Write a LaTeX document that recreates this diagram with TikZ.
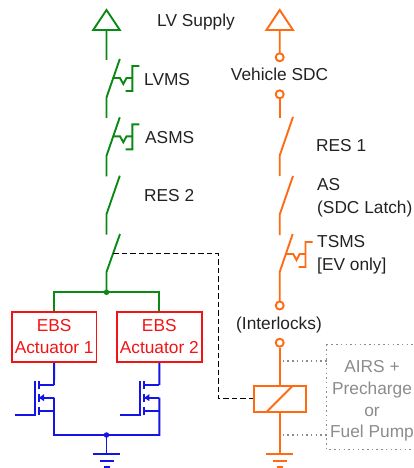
\documentclass[tikz,border=0pt]{standalone}
\usepackage{fontspec}
\setmainfont{Liberation Sans}
\definecolor{grn}{HTML}{0A8A14}
\definecolor{org}{HTML}{FF6A13}
\definecolor{blu}{HTML}{1414E6}
\definecolor{rd}{HTML}{F01414}
\definecolor{gry}{HTML}{8C8C8C}
\definecolor{txt}{HTML}{222222}
\tikzset{
  wire/.style={line width=1.9pt,line join=miter},
  lbl/.style={font=\fontsize{17.3}{17.3}\selectfont,text=txt,inner sep=0pt,anchor=base west},
  lblc/.style={lbl,anchor=base},
  ebs/.style={draw=rd,line width=1.9pt,minimum width=84.5pt,minimum height=50pt,inner sep=0pt,align=center,text=rd,font=\fontsize{17.3}{22}\selectfont},
  term/.style={circle,draw=org,fill=white,line width=1.9pt,minimum size=8pt,inner sep=0pt},
  junction/.style={circle,inner sep=0pt,minimum size=5.5pt},
  gl/.style={text=gry,font=\fontsize{17.3}{17.3}\selectfont,inner sep=0pt,anchor=base},
  tie/.style={gry,line width=1.5pt,dash pattern=on 1.5pt off 3.2pt},
  ctrl/.style={black,line width=1.2pt,dash pattern=on 5.5pt off 3pt}
}
\newcommand{\supply}[3]{% x, colour, bottom y
  \draw[wire,#2] (#1,30)--(#1-13.3,30)--(#1,10)--(#1+13.3,30)--cycle (#1,30)--(#1,#3);
}
\newcommand{\sw}[3]{% x, top y, colour: blade and stub
  \draw[wire,#3] (#1+13.3,#2)--(#1,#2+38.5)--(#1,#2+59);
}
\newcommand{\actu}[3]{% x, top y, colour
  \draw[wire,#3] (#1+6,#2+19)--(#1+13.5,#2+19)--(#1+16.8,#2+25)--(#1+20,#2+19)--(#1+25.8,#2+19)
     (#1+32.8,#2+7)--(#1+25.8,#2+7)--(#1+25.8,#2+32)--(#1+19,#2+32);
}
\newcommand{\fet}[1]{%
  \draw[wire,blu] (#1-19,381)--(#1-19,415)--(#1-39,415)
     (#1-15,381)--(#1-15,389) (#1-15,394)--(#1-15,402) (#1-15,407)--(#1-15,415)
     (#1-15,385)--(#1,385)
     (#1-15,411)--(#1,411)
     (#1-15,397.7)--(#1,397.7);
  \fill[blu] (#1-15,397.7)--(#1-10,394.2)--(#1-10,401.2)--cycle;
}
\newcommand{\gnd}[2]{% x, colour
  \draw[wire,#2] (#1,435)--(#1,454) (#1-13.3,454)--(#1+13.3,454) (#1-7,460.7)--(#1+7,460.7) (#1-3,467)--(#1+3,467);
}
\begin{document}
\begin{tikzpicture}[x=1pt,y=-1pt]
\useasboundingbox (0,0) rectangle (414,468);
% green LV chain
\supply{106.5}{grn}{60}
\sw{106.5}{59}{grn}\actu{106.5}{59}{grn}
\sw{106.5}{117.3}{grn}\actu{106.5}{117.3}{grn}
\sw{106.5}{175.7}{grn}
\draw[wire,grn] (120,234)--(106.5,272)--(106.5,292.3);
\node[ebs] (a1) at (54.2,337) {EBS\\Actuator 1};
\node[ebs] (a2) at (159.3,337) {EBS\\Actuator 2};
\node[junction,fill=grn] (j1) at (106.5,292.3) {};
\draw[wire,grn] (a1.north)--(a1.north|-j1)--(a2.north|-j1)--(a2.north);
% blue
\fet{54}\fet{159.3}
\coordinate (g1) at (54,435);
\coordinate (g2) at (159.3,435);
\node[junction,fill=blu] (j2) at (106.5,435) {};
\draw[wire,blu] (a1.south)--(54,385) (54,397.7)--(g1)--(g2)--(159.3,397.7) (a2.south)--(159.3,385);
\gnd{106.5}{blu}
% orange chain
\supply{279.7}{org}{53}
\node[term] (t1) at (279.7,57.3) {};
\node[term] (t2) at (279.7,94.3) {};
\draw[wire,org] (t2.south)--(279.7,118);
\sw{279.7}{117}{org}
\sw{279.7}{176}{org}
\draw[wire,org] (292.7,234)--(279.7,272)--(279.7,301);
\actu{279.7}{235}{org}
\node[term] (t3) at (279.7,305.5) {};
\node[term] (t4) at (279.7,342.7) {};
\node[draw=org,line width=1.9pt,minimum width=52pt,minimum height=26pt,inner sep=0pt] (relay) at (279.7,398.7) {};
\draw[wire,org] (t4.south)--(relay.north) (relay.south)--(279.7,454);
\draw[wire,org] (266.7,411.7)--(292.7,385.7);
\gnd{279.7}{org}
% dashed control
\coordinate (c1) at (113.3,253.7);
\coordinate (c2) at (218.5,253.7);
\draw[ctrl] (c1)--(c2)--(c2|-relay.west)--(relay.west);
% grey block
\draw[tie] (326.7,344.3)--(414,344.3) (326.7,344.3)--(326.7,449.7)--(414,449.7);
\draw[tie] (282.7,361)--(326.7,361) (282.7,435)--(326.7,435);
\node[gl] (g1t) at (372,372.2) {AIRS +};
\node[gl] (g2t) at (372,394.2) {Precharge};
\node[gl] (g3t) at (372,416.2) {or};
\node[gl] (g4t) at (372,437.2) {Fuel Pump};
% labels
\node[lbl] (l1) at (157,26.2) {LV Supply};
\node[lbl] (l2) at (144,85.2) {LVMS};
\node[lbl] (l3) at (145,143.2) {ASMS};
\node[lbl] (l4) at (144,201.2) {RES 2};
\node[lblc] (l5) at (279.5,80.2) {Vehicle SDC};
\node[lbl] (l6) at (316,151.2) {RES 1};
\node[lbl] (l7) at (317,190.2) {AS};
\node[lbl] (l8) at (317,213.2) {(SDC Latch)};
\node[lbl] (l9) at (317,247.2) {TSMS};
\node[lbl] (l10) at (317,270.2) {[EV only]};
\node[lblc] (l11) at (279,329.2) {(Interlocks)};
\end{tikzpicture}
\end{document}
